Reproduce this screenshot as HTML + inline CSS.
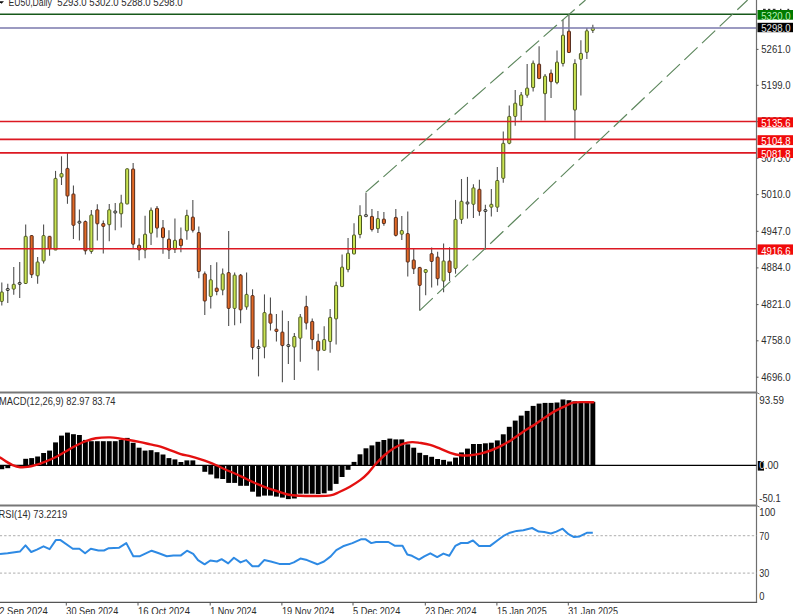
<!DOCTYPE html><html><head><meta charset="utf-8"><style>html,body{margin:0;padding:0;background:#fff;width:793px;height:614px;overflow:hidden}svg{display:block}text{font-family:"Liberation Sans",sans-serif}</style></head><body>
<svg width="793" height="614" viewBox="0 0 793 614">
<rect width="793" height="614" fill="#fff"/>
<line x1="1.80" y1="282.6" x2="1.80" y2="305.4" stroke="#505050" stroke-width="1.1"/>
<rect x="0.30" y="292" width="3" height="9.4" rx="0.6" fill="#cae452" stroke="#4a5620" stroke-width="1"/>
<line x1="7.77" y1="283.8" x2="7.77" y2="303" stroke="#505050" stroke-width="1.1"/>
<rect x="6.27" y="288.50" width="3" height="2" rx="0.8" fill="#b4b4a4" stroke="#2a2a2a" stroke-width="1"/>
<line x1="13.74" y1="267" x2="13.74" y2="294.8" stroke="#505050" stroke-width="1.1"/>
<rect x="12.24" y="284.3" width="3" height="4.8" rx="0.6" fill="#cae452" stroke="#4a5620" stroke-width="1"/>
<line x1="19.71" y1="262" x2="19.71" y2="298" stroke="#505050" stroke-width="1.1"/>
<rect x="18.21" y="282.40" width="3" height="2" rx="0.8" fill="#b4b4a4" stroke="#2a2a2a" stroke-width="1"/>
<line x1="25.68" y1="224.6" x2="25.68" y2="283.5" stroke="#505050" stroke-width="1.1"/>
<rect x="24.18" y="236.3" width="3" height="47.2" rx="0.6" fill="#cae452" stroke="#4a5620" stroke-width="1"/>
<line x1="31.65" y1="235.6" x2="31.65" y2="278" stroke="#505050" stroke-width="1.1"/>
<rect x="30.15" y="235.6" width="3" height="39.1" rx="0.6" fill="#e26a26" stroke="#50281a" stroke-width="1"/>
<line x1="37.62" y1="256.9" x2="37.62" y2="283.8" stroke="#505050" stroke-width="1.1"/>
<rect x="36.12" y="262" width="3" height="13.8" rx="0.6" fill="#cae452" stroke="#4a5620" stroke-width="1"/>
<line x1="43.59" y1="224.6" x2="43.59" y2="263.6" stroke="#505050" stroke-width="1.1"/>
<rect x="42.09" y="235.6" width="3" height="25.4" rx="0.6" fill="#cae452" stroke="#4a5620" stroke-width="1"/>
<line x1="49.56" y1="236.3" x2="49.56" y2="255.8" stroke="#505050" stroke-width="1.1"/>
<rect x="48.06" y="236.3" width="3" height="12.4" rx="0.6" fill="#e26a26" stroke="#50281a" stroke-width="1"/>
<line x1="55.53" y1="170.9" x2="55.53" y2="250" stroke="#505050" stroke-width="1.1"/>
<rect x="54.03" y="178.4" width="3" height="71.6" rx="0.6" fill="#cae452" stroke="#4a5620" stroke-width="1"/>
<line x1="61.50" y1="156.3" x2="61.50" y2="185" stroke="#505050" stroke-width="1.1"/>
<rect x="60.00" y="173.6" width="3" height="3.4" rx="0.6" fill="#cae452" stroke="#4a5620" stroke-width="1"/>
<line x1="67.47" y1="152.8" x2="67.47" y2="203.8" stroke="#505050" stroke-width="1.1"/>
<rect x="65.97" y="168.4" width="3" height="27.6" rx="0.6" fill="#e26a26" stroke="#50281a" stroke-width="1"/>
<line x1="73.44" y1="185.6" x2="73.44" y2="239" stroke="#505050" stroke-width="1.1"/>
<rect x="71.94" y="194" width="3" height="31.3" rx="0.6" fill="#e26a26" stroke="#50281a" stroke-width="1"/>
<line x1="79.41" y1="209.4" x2="79.41" y2="240.5" stroke="#505050" stroke-width="1.1"/>
<rect x="77.91" y="221.20" width="3" height="2" rx="0.8" fill="#b4b4a4" stroke="#2a2a2a" stroke-width="1"/>
<line x1="85.38" y1="220.4" x2="85.38" y2="254.4" stroke="#505050" stroke-width="1.1"/>
<rect x="83.88" y="221.5" width="3" height="29.3" rx="0.6" fill="#e26a26" stroke="#50281a" stroke-width="1"/>
<line x1="91.35" y1="210" x2="91.35" y2="253.7" stroke="#505050" stroke-width="1.1"/>
<rect x="89.85" y="215" width="3" height="36.5" rx="0.6" fill="#cae452" stroke="#4a5620" stroke-width="1"/>
<line x1="97.32" y1="204.2" x2="97.32" y2="240.5" stroke="#505050" stroke-width="1.1"/>
<rect x="95.82" y="209.8" width="3" height="14.0" rx="0.6" fill="#e26a26" stroke="#50281a" stroke-width="1"/>
<line x1="103.29" y1="220.4" x2="103.29" y2="253.4" stroke="#505050" stroke-width="1.1"/>
<rect x="101.79" y="223.5" width="3" height="2.9" rx="0.6" fill="#e26a26" stroke="#50281a" stroke-width="1"/>
<line x1="109.26" y1="204" x2="109.26" y2="241.3" stroke="#505050" stroke-width="1.1"/>
<rect x="107.76" y="209.8" width="3" height="14.9" rx="0.6" fill="#cae452" stroke="#4a5620" stroke-width="1"/>
<line x1="115.23" y1="203" x2="115.23" y2="230.3" stroke="#505050" stroke-width="1.1"/>
<rect x="113.73" y="211.00" width="3" height="2" rx="0.8" fill="#b4b4a4" stroke="#2a2a2a" stroke-width="1"/>
<line x1="121.20" y1="194.7" x2="121.20" y2="227.5" stroke="#505050" stroke-width="1.1"/>
<rect x="119.70" y="203" width="3" height="10.8" rx="0.6" fill="#cae452" stroke="#4a5620" stroke-width="1"/>
<line x1="127.17" y1="168.8" x2="127.17" y2="204" stroke="#505050" stroke-width="1.1"/>
<rect x="125.67" y="168.8" width="3" height="35.2" rx="0.6" fill="#cae452" stroke="#4a5620" stroke-width="1"/>
<line x1="133.14" y1="162.9" x2="133.14" y2="248.6" stroke="#505050" stroke-width="1.1"/>
<rect x="131.64" y="169" width="3" height="75.2" rx="0.6" fill="#e26a26" stroke="#50281a" stroke-width="1"/>
<line x1="139.11" y1="238.3" x2="139.11" y2="260.3" stroke="#505050" stroke-width="1.1"/>
<rect x="137.61" y="245.2" width="3" height="4.8" rx="0.6" fill="#e26a26" stroke="#50281a" stroke-width="1"/>
<line x1="145.08" y1="215.7" x2="145.08" y2="258.3" stroke="#505050" stroke-width="1.1"/>
<rect x="143.58" y="234.2" width="3" height="15.8" rx="0.6" fill="#cae452" stroke="#4a5620" stroke-width="1"/>
<line x1="151.05" y1="207.6" x2="151.05" y2="245" stroke="#505050" stroke-width="1.1"/>
<rect x="149.55" y="210.2" width="3" height="23.0" rx="0.6" fill="#cae452" stroke="#4a5620" stroke-width="1"/>
<line x1="157.02" y1="206.1" x2="157.02" y2="237.6" stroke="#505050" stroke-width="1.1"/>
<rect x="155.52" y="208.3" width="3" height="19.8" rx="0.6" fill="#e26a26" stroke="#50281a" stroke-width="1"/>
<line x1="162.99" y1="220" x2="162.99" y2="253.8" stroke="#505050" stroke-width="1.1"/>
<rect x="161.49" y="227.8" width="3" height="9.8" rx="0.6" fill="#e26a26" stroke="#50281a" stroke-width="1"/>
<line x1="168.96" y1="230.3" x2="168.96" y2="258.9" stroke="#505050" stroke-width="1.1"/>
<rect x="167.46" y="239.1" width="3" height="11.0" rx="0.6" fill="#e26a26" stroke="#50281a" stroke-width="1"/>
<line x1="174.93" y1="218.6" x2="174.93" y2="253" stroke="#505050" stroke-width="1.1"/>
<rect x="173.43" y="240.3" width="3" height="9.1" rx="0.6" fill="#cae452" stroke="#4a5620" stroke-width="1"/>
<line x1="180.90" y1="227.4" x2="180.90" y2="252.3" stroke="#505050" stroke-width="1.1"/>
<rect x="179.40" y="239.1" width="3" height="6.6" rx="0.6" fill="#e26a26" stroke="#50281a" stroke-width="1"/>
<line x1="186.87" y1="209.8" x2="186.87" y2="239.8" stroke="#505050" stroke-width="1.1"/>
<rect x="185.37" y="215.4" width="3" height="15.4" rx="0.6" fill="#cae452" stroke="#4a5620" stroke-width="1"/>
<line x1="192.84" y1="200" x2="192.84" y2="232.5" stroke="#505050" stroke-width="1.1"/>
<rect x="191.34" y="217.1" width="3" height="13.2" rx="0.6" fill="#e26a26" stroke="#50281a" stroke-width="1"/>
<line x1="198.81" y1="226.6" x2="198.81" y2="278.2" stroke="#505050" stroke-width="1.1"/>
<rect x="197.31" y="232.5" width="3" height="39.0" rx="0.6" fill="#e26a26" stroke="#50281a" stroke-width="1"/>
<line x1="204.78" y1="271.5" x2="204.78" y2="315" stroke="#505050" stroke-width="1.1"/>
<rect x="203.28" y="273.8" width="3" height="27.2" rx="0.6" fill="#e26a26" stroke="#50281a" stroke-width="1"/>
<line x1="210.75" y1="265.1" x2="210.75" y2="308.4" stroke="#505050" stroke-width="1.1"/>
<rect x="209.25" y="279.8" width="3" height="16.6" rx="0.6" fill="#cae452" stroke="#4a5620" stroke-width="1"/>
<line x1="216.72" y1="262.2" x2="216.72" y2="295.2" stroke="#505050" stroke-width="1.1"/>
<rect x="215.22" y="288.1" width="3" height="3.4" rx="0.6" fill="#e26a26" stroke="#50281a" stroke-width="1"/>
<line x1="222.69" y1="268.6" x2="222.69" y2="295.2" stroke="#505050" stroke-width="1.1"/>
<rect x="221.19" y="273.9" width="3" height="16.1" rx="0.6" fill="#cae452" stroke="#4a5620" stroke-width="1"/>
<line x1="228.66" y1="231" x2="228.66" y2="326" stroke="#505050" stroke-width="1.1"/>
<rect x="227.16" y="272.6" width="3" height="35.8" rx="0.6" fill="#e26a26" stroke="#50281a" stroke-width="1"/>
<line x1="234.63" y1="272.5" x2="234.63" y2="325.2" stroke="#505050" stroke-width="1.1"/>
<rect x="233.13" y="275.1" width="3" height="33.3" rx="0.6" fill="#cae452" stroke="#4a5620" stroke-width="1"/>
<line x1="240.60" y1="274" x2="240.60" y2="323.3" stroke="#505050" stroke-width="1.1"/>
<rect x="239.10" y="275.1" width="3" height="34.7" rx="0.6" fill="#e26a26" stroke="#50281a" stroke-width="1"/>
<line x1="246.57" y1="272.5" x2="246.57" y2="309.8" stroke="#505050" stroke-width="1.1"/>
<rect x="245.07" y="294.4" width="3" height="12.5" rx="0.6" fill="#cae452" stroke="#4a5620" stroke-width="1"/>
<line x1="252.54" y1="289.3" x2="252.54" y2="359.5" stroke="#505050" stroke-width="1.1"/>
<rect x="251.04" y="295.6" width="3" height="51.9" rx="0.6" fill="#e26a26" stroke="#50281a" stroke-width="1"/>
<line x1="258.51" y1="339.5" x2="258.51" y2="376.4" stroke="#505050" stroke-width="1.1"/>
<rect x="257.01" y="346.50" width="3" height="2" rx="0.8" fill="#b4b4a4" stroke="#2a2a2a" stroke-width="1"/>
<line x1="264.48" y1="294.4" x2="264.48" y2="358.3" stroke="#505050" stroke-width="1.1"/>
<rect x="262.98" y="312.6" width="3" height="34.4" rx="0.6" fill="#cae452" stroke="#4a5620" stroke-width="1"/>
<line x1="270.45" y1="297.6" x2="270.45" y2="330.5" stroke="#505050" stroke-width="1.1"/>
<rect x="268.95" y="314.1" width="3" height="9.1" rx="0.6" fill="#e26a26" stroke="#50281a" stroke-width="1"/>
<line x1="276.42" y1="314.1" x2="276.42" y2="341.6" stroke="#505050" stroke-width="1.1"/>
<rect x="274.92" y="329.2" width="3" height="2.3" rx="0.6" fill="#e26a26" stroke="#50281a" stroke-width="1"/>
<line x1="282.39" y1="310.4" x2="282.39" y2="382.2" stroke="#505050" stroke-width="1.1"/>
<rect x="280.89" y="332.1" width="3" height="13.5" rx="0.6" fill="#e26a26" stroke="#50281a" stroke-width="1"/>
<line x1="288.36" y1="321.1" x2="288.36" y2="363.9" stroke="#505050" stroke-width="1.1"/>
<rect x="286.86" y="344.60" width="3" height="2" rx="0.8" fill="#b4b4a4" stroke="#2a2a2a" stroke-width="1"/>
<line x1="294.33" y1="333.1" x2="294.33" y2="380" stroke="#505050" stroke-width="1.1"/>
<rect x="292.83" y="336.5" width="3" height="10.5" rx="0.6" fill="#cae452" stroke="#4a5620" stroke-width="1"/>
<line x1="300.30" y1="314" x2="300.30" y2="361.7" stroke="#505050" stroke-width="1.1"/>
<rect x="298.80" y="317" width="3" height="21.2" rx="0.6" fill="#cae452" stroke="#4a5620" stroke-width="1"/>
<line x1="306.27" y1="295.7" x2="306.27" y2="329.4" stroke="#505050" stroke-width="1.1"/>
<rect x="304.77" y="306.4" width="3" height="16.7" rx="0.6" fill="#e26a26" stroke="#50281a" stroke-width="1"/>
<line x1="312.24" y1="318.5" x2="312.24" y2="349.3" stroke="#505050" stroke-width="1.1"/>
<rect x="310.74" y="321.4" width="3" height="18.2" rx="0.6" fill="#e26a26" stroke="#50281a" stroke-width="1"/>
<line x1="318.21" y1="333.7" x2="318.21" y2="370.5" stroke="#505050" stroke-width="1.1"/>
<rect x="316.71" y="341.2" width="3" height="9.6" rx="0.6" fill="#e26a26" stroke="#50281a" stroke-width="1"/>
<line x1="324.18" y1="326.2" x2="324.18" y2="350.3" stroke="#505050" stroke-width="1.1"/>
<rect x="322.68" y="339.6" width="3" height="10.7" rx="0.6" fill="#cae452" stroke="#4a5620" stroke-width="1"/>
<line x1="330.15" y1="309" x2="330.15" y2="352.7" stroke="#505050" stroke-width="1.1"/>
<rect x="328.65" y="317.4" width="3" height="24.1" rx="0.6" fill="#cae452" stroke="#4a5620" stroke-width="1"/>
<line x1="336.12" y1="281.8" x2="336.12" y2="344.4" stroke="#505050" stroke-width="1.1"/>
<rect x="334.62" y="285.4" width="3" height="33.5" rx="0.6" fill="#cae452" stroke="#4a5620" stroke-width="1"/>
<line x1="342.09" y1="254.4" x2="342.09" y2="286.6" stroke="#505050" stroke-width="1.1"/>
<rect x="340.59" y="267.1" width="3" height="19.5" rx="0.6" fill="#cae452" stroke="#4a5620" stroke-width="1"/>
<line x1="348.06" y1="237.9" x2="348.06" y2="272.2" stroke="#505050" stroke-width="1.1"/>
<rect x="346.56" y="253.2" width="3" height="16.4" rx="0.6" fill="#cae452" stroke="#4a5620" stroke-width="1"/>
<line x1="354.03" y1="223.2" x2="354.03" y2="254" stroke="#505050" stroke-width="1.1"/>
<rect x="352.53" y="235" width="3" height="19.0" rx="0.6" fill="#cae452" stroke="#4a5620" stroke-width="1"/>
<line x1="360.00" y1="205.2" x2="360.00" y2="238.3" stroke="#505050" stroke-width="1.1"/>
<rect x="358.50" y="215.5" width="3" height="19.0" rx="0.6" fill="#cae452" stroke="#4a5620" stroke-width="1"/>
<line x1="365.97" y1="192.9" x2="365.97" y2="216.6" stroke="#505050" stroke-width="1.1"/>
<rect x="364.47" y="214.60" width="3" height="2" rx="0.8" fill="#b4b4a4" stroke="#2a2a2a" stroke-width="1"/>
<line x1="371.94" y1="209" x2="371.94" y2="231.6" stroke="#505050" stroke-width="1.1"/>
<rect x="370.44" y="216.4" width="3" height="13.1" rx="0.6" fill="#e26a26" stroke="#50281a" stroke-width="1"/>
<line x1="377.91" y1="211.1" x2="377.91" y2="233" stroke="#505050" stroke-width="1.1"/>
<rect x="376.41" y="218.6" width="3" height="10.1" rx="0.6" fill="#cae452" stroke="#4a5620" stroke-width="1"/>
<line x1="383.88" y1="212" x2="383.88" y2="225.7" stroke="#505050" stroke-width="1.1"/>
<rect x="382.38" y="219.1" width="3" height="4.4" rx="0.6" fill="#e26a26" stroke="#50281a" stroke-width="1"/>
<line x1="395.82" y1="209" x2="395.82" y2="236.4" stroke="#505050" stroke-width="1.1"/>
<rect x="394.32" y="217.4" width="3" height="18.0" rx="0.6" fill="#e26a26" stroke="#50281a" stroke-width="1"/>
<line x1="401.79" y1="215.9" x2="401.79" y2="240.1" stroke="#505050" stroke-width="1.1"/>
<rect x="400.29" y="230.6" width="3" height="3.6" rx="0.6" fill="#cae452" stroke="#4a5620" stroke-width="1"/>
<line x1="407.76" y1="211.5" x2="407.76" y2="276.6" stroke="#505050" stroke-width="1.1"/>
<rect x="406.26" y="233.6" width="3" height="28.4" rx="0.6" fill="#e26a26" stroke="#50281a" stroke-width="1"/>
<line x1="413.73" y1="248.3" x2="413.73" y2="274" stroke="#505050" stroke-width="1.1"/>
<rect x="412.23" y="260" width="3" height="8.8" rx="0.6" fill="#e26a26" stroke="#50281a" stroke-width="1"/>
<line x1="419.70" y1="267.4" x2="419.70" y2="310.6" stroke="#505050" stroke-width="1.1"/>
<rect x="418.20" y="267.4" width="3" height="18.0" rx="0.6" fill="#e26a26" stroke="#50281a" stroke-width="1"/>
<line x1="425.67" y1="269.6" x2="425.67" y2="295.2" stroke="#505050" stroke-width="1.1"/>
<rect x="424.17" y="269.6" width="3" height="2.9" rx="0.6" fill="#cae452" stroke="#4a5620" stroke-width="1"/>
<line x1="431.64" y1="247.6" x2="431.64" y2="287.5" stroke="#505050" stroke-width="1.1"/>
<rect x="430.14" y="253.7" width="3" height="7.8" rx="0.6" fill="#e26a26" stroke="#50281a" stroke-width="1"/>
<line x1="437.61" y1="251.7" x2="437.61" y2="285.4" stroke="#505050" stroke-width="1.1"/>
<rect x="436.11" y="257.1" width="3" height="21.6" rx="0.6" fill="#e26a26" stroke="#50281a" stroke-width="1"/>
<line x1="443.58" y1="243.4" x2="443.58" y2="292.3" stroke="#505050" stroke-width="1.1"/>
<rect x="442.08" y="261" width="3" height="20.0" rx="0.6" fill="#cae452" stroke="#4a5620" stroke-width="1"/>
<line x1="449.55" y1="247.3" x2="449.55" y2="281" stroke="#505050" stroke-width="1.1"/>
<rect x="448.05" y="261" width="3" height="11.5" rx="0.6" fill="#e26a26" stroke="#50281a" stroke-width="1"/>
<line x1="455.52" y1="199.9" x2="455.52" y2="273.7" stroke="#505050" stroke-width="1.1"/>
<rect x="454.02" y="219.4" width="3" height="49.0" rx="0.6" fill="#cae452" stroke="#4a5620" stroke-width="1"/>
<line x1="461.49" y1="179" x2="461.49" y2="223.8" stroke="#505050" stroke-width="1.1"/>
<rect x="459.99" y="201.3" width="3" height="18.1" rx="0.6" fill="#cae452" stroke="#4a5620" stroke-width="1"/>
<line x1="467.46" y1="176.9" x2="467.46" y2="218.6" stroke="#505050" stroke-width="1.1"/>
<rect x="465.96" y="202.00" width="3" height="2" rx="0.8" fill="#b4b4a4" stroke="#2a2a2a" stroke-width="1"/>
<line x1="473.43" y1="184.2" x2="473.43" y2="217.9" stroke="#505050" stroke-width="1.1"/>
<rect x="471.93" y="187.9" width="3" height="16.4" rx="0.6" fill="#cae452" stroke="#4a5620" stroke-width="1"/>
<line x1="479.40" y1="179.8" x2="479.40" y2="215.7" stroke="#505050" stroke-width="1.1"/>
<rect x="477.90" y="189.3" width="3" height="22.0" rx="0.6" fill="#e26a26" stroke="#50281a" stroke-width="1"/>
<line x1="485.37" y1="204.7" x2="485.37" y2="249.4" stroke="#505050" stroke-width="1.1"/>
<rect x="483.87" y="209.60" width="3" height="2" rx="0.8" fill="#b4b4a4" stroke="#2a2a2a" stroke-width="1"/>
<line x1="491.34" y1="189" x2="491.34" y2="216.4" stroke="#505050" stroke-width="1.1"/>
<rect x="489.84" y="204.3" width="3" height="2.9" rx="0.6" fill="#cae452" stroke="#4a5620" stroke-width="1"/>
<line x1="497.31" y1="167" x2="497.31" y2="212" stroke="#505050" stroke-width="1.1"/>
<rect x="495.81" y="180.5" width="3" height="26.7" rx="0.6" fill="#cae452" stroke="#4a5620" stroke-width="1"/>
<line x1="503.28" y1="131.4" x2="503.28" y2="182.7" stroke="#505050" stroke-width="1.1"/>
<rect x="501.78" y="143.3" width="3" height="35.0" rx="0.6" fill="#cae452" stroke="#4a5620" stroke-width="1"/>
<line x1="509.25" y1="105.4" x2="509.25" y2="144.3" stroke="#505050" stroke-width="1.1"/>
<rect x="507.75" y="116.4" width="3" height="26.9" rx="0.6" fill="#cae452" stroke="#4a5620" stroke-width="1"/>
<line x1="515.22" y1="90" x2="515.22" y2="125.7" stroke="#505050" stroke-width="1.1"/>
<rect x="513.72" y="103.2" width="3" height="13.2" rx="0.6" fill="#cae452" stroke="#4a5620" stroke-width="1"/>
<line x1="521.19" y1="92" x2="521.19" y2="120.4" stroke="#505050" stroke-width="1.1"/>
<rect x="519.69" y="94.9" width="3" height="10.8" rx="0.6" fill="#cae452" stroke="#4a5620" stroke-width="1"/>
<line x1="527.16" y1="64.1" x2="527.16" y2="97.8" stroke="#505050" stroke-width="1.1"/>
<rect x="525.66" y="88.1" width="3" height="7.1" rx="0.6" fill="#cae452" stroke="#4a5620" stroke-width="1"/>
<line x1="533.13" y1="60.5" x2="533.13" y2="91.5" stroke="#505050" stroke-width="1.1"/>
<rect x="531.63" y="63.2" width="3" height="24.4" rx="0.6" fill="#cae452" stroke="#4a5620" stroke-width="1"/>
<line x1="539.10" y1="46.2" x2="539.10" y2="78.6" stroke="#505050" stroke-width="1.1"/>
<rect x="537.60" y="64.1" width="3" height="14.5" rx="0.6" fill="#e26a26" stroke="#50281a" stroke-width="1"/>
<line x1="545.07" y1="74" x2="545.07" y2="120.4" stroke="#505050" stroke-width="1.1"/>
<rect x="543.57" y="76.1" width="3" height="17.6" rx="0.6" fill="#cae452" stroke="#4a5620" stroke-width="1"/>
<line x1="551.04" y1="69.5" x2="551.04" y2="98.1" stroke="#505050" stroke-width="1.1"/>
<rect x="549.54" y="73.2" width="3" height="8.5" rx="0.6" fill="#e26a26" stroke="#50281a" stroke-width="1"/>
<line x1="557.01" y1="50.6" x2="557.01" y2="84.2" stroke="#505050" stroke-width="1.1"/>
<rect x="555.51" y="62.1" width="3" height="20.6" rx="0.6" fill="#cae452" stroke="#4a5620" stroke-width="1"/>
<line x1="562.98" y1="19.8" x2="562.98" y2="66.5" stroke="#505050" stroke-width="1.1"/>
<rect x="561.48" y="35.2" width="3" height="28.3" rx="0.6" fill="#cae452" stroke="#4a5620" stroke-width="1"/>
<line x1="568.95" y1="14.2" x2="568.95" y2="52.5" stroke="#505050" stroke-width="1.1"/>
<rect x="567.45" y="31.2" width="3" height="21.3" rx="0.6" fill="#e26a26" stroke="#50281a" stroke-width="1"/>
<line x1="574.92" y1="59.3" x2="574.92" y2="139.4" stroke="#505050" stroke-width="1.1"/>
<rect x="573.42" y="63.5" width="3" height="46.5" rx="0.6" fill="#cae452" stroke="#4a5620" stroke-width="1"/>
<line x1="580.89" y1="40.3" x2="580.89" y2="95.4" stroke="#505050" stroke-width="1.1"/>
<rect x="579.39" y="53.4" width="3" height="5.9" rx="0.6" fill="#cae452" stroke="#4a5620" stroke-width="1"/>
<line x1="586.86" y1="27.9" x2="586.86" y2="59" stroke="#505050" stroke-width="1.1"/>
<rect x="585.36" y="30.8" width="3" height="21.5" rx="0.6" fill="#cae452" stroke="#4a5620" stroke-width="1"/>
<line x1="592.83" y1="24.8" x2="592.83" y2="33.1" stroke="#505050" stroke-width="1.1"/>
<rect x="591.33" y="27.6" width="3" height="2.8" rx="0.6" fill="#cae452" stroke="#4a5620" stroke-width="1"/>
<line x1="0" y1="14.2" x2="757" y2="14.2" stroke="#17581a" stroke-width="1.5"/>
<line x1="0" y1="27.9" x2="757" y2="27.9" stroke="#7a78ac" stroke-width="1.5"/>
<line x1="0" y1="121.5" x2="757" y2="121.5" stroke="#dc1822" stroke-width="1.6"/>
<line x1="0" y1="139.4" x2="757" y2="139.4" stroke="#dc1822" stroke-width="1.6"/>
<line x1="0" y1="152.9" x2="757" y2="152.9" stroke="#dc1822" stroke-width="1.6"/>
<line x1="0" y1="248.8" x2="757" y2="248.8" stroke="#dc1822" stroke-width="1.6"/>
<line x1="365.6" y1="192.4" x2="585.5" y2="0" stroke="#5c865c" stroke-width="1.15" stroke-dasharray="17.69 5.96"/>
<line x1="419.6" y1="310.6" x2="747.6" y2="0" stroke="#5c865c" stroke-width="1.15" stroke-dasharray="18.18 6.13"/>
<line x1="756.5" y1="0" x2="756.5" y2="602.5" stroke="#6e6e6e" stroke-width="1.2"/>
<line x1="756.5" y1="49.4" x2="758.5" y2="49.4" stroke="#555" stroke-width="1"/>
<text x="761.3" y="52.8" font-size="10.4" fill="#2d2d2d" text-anchor="start" textLength="29.2" lengthAdjust="spacingAndGlyphs">5261.0</text>
<line x1="756.5" y1="85.3" x2="758.5" y2="85.3" stroke="#555" stroke-width="1"/>
<text x="761.3" y="88.7" font-size="10.4" fill="#2d2d2d" text-anchor="start" textLength="29.2" lengthAdjust="spacingAndGlyphs">5199.0</text>
<line x1="756.5" y1="121.7" x2="758.5" y2="121.7" stroke="#555" stroke-width="1"/>
<text x="761.3" y="125.10000000000001" font-size="10.4" fill="#2d2d2d" text-anchor="start" textLength="29.2" lengthAdjust="spacingAndGlyphs">5136.0</text>
<line x1="756.5" y1="158.2" x2="758.5" y2="158.2" stroke="#555" stroke-width="1"/>
<text x="761.3" y="161.6" font-size="10.4" fill="#2d2d2d" text-anchor="start" textLength="29.2" lengthAdjust="spacingAndGlyphs">5073.0</text>
<line x1="756.5" y1="194.6" x2="758.5" y2="194.6" stroke="#555" stroke-width="1"/>
<text x="761.3" y="198.0" font-size="10.4" fill="#2d2d2d" text-anchor="start" textLength="29.2" lengthAdjust="spacingAndGlyphs">5010.0</text>
<line x1="756.5" y1="231.3" x2="758.5" y2="231.3" stroke="#555" stroke-width="1"/>
<text x="761.3" y="234.70000000000002" font-size="10.4" fill="#2d2d2d" text-anchor="start" textLength="29.2" lengthAdjust="spacingAndGlyphs">4947.0</text>
<line x1="756.5" y1="267.9" x2="758.5" y2="267.9" stroke="#555" stroke-width="1"/>
<text x="761.3" y="271.29999999999995" font-size="10.4" fill="#2d2d2d" text-anchor="start" textLength="29.2" lengthAdjust="spacingAndGlyphs">4884.0</text>
<line x1="756.5" y1="304.6" x2="758.5" y2="304.6" stroke="#555" stroke-width="1"/>
<text x="761.3" y="308.0" font-size="10.4" fill="#2d2d2d" text-anchor="start" textLength="29.2" lengthAdjust="spacingAndGlyphs">4821.0</text>
<line x1="756.5" y1="340.8" x2="758.5" y2="340.8" stroke="#555" stroke-width="1"/>
<text x="761.3" y="344.2" font-size="10.4" fill="#2d2d2d" text-anchor="start" textLength="29.2" lengthAdjust="spacingAndGlyphs">4758.0</text>
<line x1="756.5" y1="377.2" x2="758.5" y2="377.2" stroke="#555" stroke-width="1"/>
<text x="761.3" y="380.59999999999997" font-size="10.4" fill="#2d2d2d" text-anchor="start" textLength="29.2" lengthAdjust="spacingAndGlyphs">4696.0</text>
<rect x="763" y="8.8" width="2.7" height="1.3" fill="#333"/>
<rect x="767.9" y="8.8" width="2.4" height="1.3" fill="#333"/>
<rect x="772.8" y="8.8" width="2.7" height="1.3" fill="#333"/>
<rect x="780" y="8.8" width="1.4" height="1.3" fill="#333"/>
<rect x="787.4" y="8.8" width="1.8" height="1.3" fill="#333"/>
<rect x="757.5" y="10" width="36" height="9.7" fill="#007a00"/>
<text x="761.3" y="19.5" font-size="10.4" fill="#b8f0b8" text-anchor="start" textLength="29.2" lengthAdjust="spacingAndGlyphs">5320.0</text>
<rect x="757.5" y="22.8" width="36" height="9.400000000000002" fill="#000"/>
<text x="761.3" y="32.0" font-size="10.4" fill="#e6e6e6" text-anchor="start" textLength="29.2" lengthAdjust="spacingAndGlyphs">5298.0</text>
<rect x="757.5" y="117.3" width="36" height="10.0" fill="#f00a0a"/>
<text x="761.3" y="127.1" font-size="10.4" fill="#fff" text-anchor="start" textLength="29.2" lengthAdjust="spacingAndGlyphs">5135.6</text>
<rect x="757.5" y="135.2" width="36" height="9.900000000000006" fill="#f00a0a"/>
<text x="761.3" y="144.9" font-size="10.4" fill="#fff" text-anchor="start" textLength="29.2" lengthAdjust="spacingAndGlyphs">5104.8</text>
<rect x="757.5" y="147.8" width="36" height="10.199999999999989" fill="#f00a0a"/>
<text x="761.3" y="157.8" font-size="10.4" fill="#fff" text-anchor="start" textLength="29.2" lengthAdjust="spacingAndGlyphs">5081.8</text>
<rect x="757.5" y="244.4" width="36" height="10.299999999999983" fill="#f00a0a"/>
<text x="761.3" y="254.5" font-size="10.4" fill="#fff" text-anchor="start" textLength="29.2" lengthAdjust="spacingAndGlyphs">4916.6</text>
<path d="M-1 1.2 L4 1.2 L1.5 3.8 Z" fill="#111"/>
<text x="8.6" y="6.2" font-size="10.4" fill="#2d2d2d" text-anchor="start" textLength="43.2" lengthAdjust="spacingAndGlyphs">EU50,Daily</text>
<text x="57.3" y="6.2" font-size="10.4" fill="#2d2d2d" text-anchor="start" textLength="125.4" lengthAdjust="spacingAndGlyphs">5293.0 5302.0 5288.0 5298.0</text>
<line x1="0" y1="392.5" x2="757.1" y2="392.5" stroke="#777" stroke-width="2.2"/>
<line x1="756.5" y1="392.5" x2="759.5" y2="394.0" stroke="#777" stroke-width="1"/>
<line x1="0" y1="505.5" x2="757.1" y2="505.5" stroke="#777" stroke-width="2.2"/>
<line x1="756.5" y1="505.5" x2="759.5" y2="507.0" stroke="#777" stroke-width="1"/>
<text x="-1" y="404.7" font-size="10.4" fill="#2d2d2d" text-anchor="start" textLength="116.5" lengthAdjust="spacingAndGlyphs">MACD(12,26,9) 82.97 83.74</text>
<rect x="-0.65" y="465.3" width="4.9" height="3.9" fill="#000"/>
<rect x="5.32" y="465.3" width="4.9" height="2.9" fill="#000"/>
<rect x="11.29" y="465.3" width="4.9" height="0.5" fill="#000"/>
<rect x="17.26" y="465.0" width="4.9" height="0.3" fill="#000"/>
<rect x="23.23" y="458.8" width="4.9" height="6.5" fill="#000"/>
<rect x="29.20" y="458.1" width="4.9" height="7.2" fill="#000"/>
<rect x="35.17" y="456.5" width="4.9" height="8.8" fill="#000"/>
<rect x="41.14" y="453.0" width="4.9" height="12.3" fill="#000"/>
<rect x="47.11" y="450.6" width="4.9" height="14.7" fill="#000"/>
<rect x="53.08" y="442.4" width="4.9" height="22.9" fill="#000"/>
<rect x="59.05" y="435.6" width="4.9" height="29.7" fill="#000"/>
<rect x="65.02" y="432.6" width="4.9" height="32.7" fill="#000"/>
<rect x="70.99" y="434.2" width="4.9" height="31.1" fill="#000"/>
<rect x="76.96" y="435.0" width="4.9" height="30.3" fill="#000"/>
<rect x="82.93" y="439.9" width="4.9" height="25.4" fill="#000"/>
<rect x="88.90" y="441.2" width="4.9" height="24.1" fill="#000"/>
<rect x="94.87" y="441.2" width="4.9" height="24.1" fill="#000"/>
<rect x="100.84" y="441.2" width="4.9" height="24.1" fill="#000"/>
<rect x="106.81" y="441.2" width="4.9" height="24.1" fill="#000"/>
<rect x="112.78" y="441.2" width="4.9" height="24.1" fill="#000"/>
<rect x="118.75" y="439.9" width="4.9" height="25.4" fill="#000"/>
<rect x="124.72" y="437.9" width="4.9" height="27.4" fill="#000"/>
<rect x="130.69" y="442.8" width="4.9" height="22.5" fill="#000"/>
<rect x="136.66" y="447.7" width="4.9" height="17.6" fill="#000"/>
<rect x="142.63" y="450.6" width="4.9" height="14.7" fill="#000"/>
<rect x="148.60" y="450.2" width="4.9" height="15.1" fill="#000"/>
<rect x="154.57" y="452.2" width="4.9" height="13.1" fill="#000"/>
<rect x="160.54" y="454.5" width="4.9" height="10.8" fill="#000"/>
<rect x="166.51" y="458.1" width="4.9" height="7.2" fill="#000"/>
<rect x="172.48" y="459.4" width="4.9" height="5.9" fill="#000"/>
<rect x="178.45" y="462.0" width="4.9" height="3.3" fill="#000"/>
<rect x="184.42" y="460.4" width="4.9" height="4.9" fill="#000"/>
<rect x="190.39" y="460.4" width="4.9" height="4.9" fill="#000"/>
<rect x="196.36" y="465.0" width="4.9" height="0.3" fill="#000"/>
<rect x="202.33" y="465.3" width="4.9" height="6.5" fill="#000"/>
<rect x="208.30" y="465.3" width="4.9" height="9.2" fill="#000"/>
<rect x="214.27" y="465.3" width="4.9" height="13.1" fill="#000"/>
<rect x="220.24" y="465.3" width="4.9" height="13.7" fill="#000"/>
<rect x="226.21" y="465.3" width="4.9" height="17.6" fill="#000"/>
<rect x="232.18" y="465.3" width="4.9" height="17.6" fill="#000"/>
<rect x="238.15" y="465.3" width="4.9" height="20.5" fill="#000"/>
<rect x="244.12" y="465.3" width="4.9" height="20.5" fill="#000"/>
<rect x="250.09" y="465.3" width="4.9" height="26.4" fill="#000"/>
<rect x="256.06" y="465.3" width="4.9" height="31.3" fill="#000"/>
<rect x="262.03" y="465.3" width="4.9" height="30.3" fill="#000"/>
<rect x="268.00" y="465.3" width="4.9" height="30.3" fill="#000"/>
<rect x="273.97" y="465.3" width="4.9" height="31.3" fill="#000"/>
<rect x="279.94" y="465.3" width="4.9" height="32.3" fill="#000"/>
<rect x="285.91" y="465.3" width="4.9" height="33.8" fill="#000"/>
<rect x="291.88" y="465.3" width="4.9" height="33.2" fill="#000"/>
<rect x="297.85" y="465.3" width="4.9" height="28.4" fill="#000"/>
<rect x="303.82" y="465.3" width="4.9" height="28.4" fill="#000"/>
<rect x="309.79" y="465.3" width="4.9" height="28.4" fill="#000"/>
<rect x="315.76" y="465.3" width="4.9" height="28.7" fill="#000"/>
<rect x="321.73" y="465.3" width="4.9" height="28.0" fill="#000"/>
<rect x="327.70" y="465.3" width="4.9" height="25.4" fill="#000"/>
<rect x="333.67" y="465.3" width="4.9" height="18.6" fill="#000"/>
<rect x="339.64" y="465.3" width="4.9" height="11.7" fill="#000"/>
<rect x="345.61" y="465.3" width="4.9" height="4.5" fill="#000"/>
<rect x="351.58" y="461.9" width="4.9" height="3.4" fill="#000"/>
<rect x="357.55" y="454.3" width="4.9" height="11.0" fill="#000"/>
<rect x="363.52" y="448.3" width="4.9" height="17.0" fill="#000"/>
<rect x="369.49" y="445.4" width="4.9" height="19.9" fill="#000"/>
<rect x="375.46" y="441.8" width="4.9" height="23.5" fill="#000"/>
<rect x="381.43" y="440.0" width="4.9" height="25.3" fill="#000"/>
<rect x="387.40" y="438.6" width="4.9" height="26.7" fill="#000"/>
<rect x="393.37" y="439.4" width="4.9" height="25.9" fill="#000"/>
<rect x="399.34" y="439.4" width="4.9" height="25.9" fill="#000"/>
<rect x="405.31" y="444.3" width="4.9" height="21.0" fill="#000"/>
<rect x="411.28" y="447.7" width="4.9" height="17.6" fill="#000"/>
<rect x="417.25" y="452.8" width="4.9" height="12.5" fill="#000"/>
<rect x="423.22" y="455.1" width="4.9" height="10.2" fill="#000"/>
<rect x="429.19" y="456.8" width="4.9" height="8.5" fill="#000"/>
<rect x="435.16" y="459.0" width="4.9" height="6.3" fill="#000"/>
<rect x="441.13" y="459.9" width="4.9" height="5.4" fill="#000"/>
<rect x="447.10" y="461.5" width="4.9" height="3.8" fill="#000"/>
<rect x="453.07" y="457.6" width="4.9" height="7.7" fill="#000"/>
<rect x="459.04" y="452.4" width="4.9" height="12.9" fill="#000"/>
<rect x="465.01" y="448.6" width="4.9" height="16.7" fill="#000"/>
<rect x="470.98" y="444.0" width="4.9" height="21.3" fill="#000"/>
<rect x="476.95" y="444.0" width="4.9" height="21.3" fill="#000"/>
<rect x="482.92" y="443.3" width="4.9" height="22.0" fill="#000"/>
<rect x="488.89" y="442.7" width="4.9" height="22.6" fill="#000"/>
<rect x="494.86" y="440.4" width="4.9" height="24.9" fill="#000"/>
<rect x="500.83" y="434.3" width="4.9" height="31.0" fill="#000"/>
<rect x="506.80" y="426.8" width="4.9" height="38.5" fill="#000"/>
<rect x="512.77" y="420.6" width="4.9" height="44.7" fill="#000"/>
<rect x="518.74" y="415.6" width="4.9" height="49.7" fill="#000"/>
<rect x="524.71" y="410.9" width="4.9" height="54.4" fill="#000"/>
<rect x="530.68" y="405.9" width="4.9" height="59.4" fill="#000"/>
<rect x="536.65" y="403.6" width="4.9" height="61.7" fill="#000"/>
<rect x="542.62" y="402.9" width="4.9" height="62.4" fill="#000"/>
<rect x="548.59" y="402.9" width="4.9" height="62.4" fill="#000"/>
<rect x="554.56" y="402.5" width="4.9" height="62.8" fill="#000"/>
<rect x="560.53" y="399.5" width="4.9" height="65.8" fill="#000"/>
<rect x="566.50" y="400.2" width="4.9" height="65.1" fill="#000"/>
<rect x="572.47" y="401.3" width="4.9" height="64.0" fill="#000"/>
<rect x="578.44" y="401.8" width="4.9" height="63.5" fill="#000"/>
<rect x="584.41" y="401.8" width="4.9" height="63.5" fill="#000"/>
<rect x="590.38" y="401.8" width="4.9" height="63.5" fill="#000"/>
<line x1="0" y1="465.3" x2="756.5" y2="465.3" stroke="#000" stroke-width="1.2"/>
<path d="M0.00,457.50 C1.05,458.18 4.20,460.33 6.30,461.60 C8.40,462.87 10.28,464.17 12.60,465.10 C14.92,466.03 17.68,466.90 20.20,467.20 C22.72,467.50 25.18,467.25 27.70,466.90 C30.22,466.55 32.35,465.98 35.30,465.10 C38.25,464.22 42.03,462.92 45.40,461.60 C48.77,460.28 52.13,458.88 55.50,457.20 C58.87,455.52 62.23,453.40 65.60,451.50 C68.97,449.60 72.33,447.53 75.70,445.80 C79.07,444.07 82.45,442.37 85.80,441.10 C89.15,439.83 91.75,438.82 95.80,438.20 C99.85,437.58 106.03,437.33 110.10,437.40 C114.17,437.47 116.83,438.13 120.20,438.60 C123.57,439.07 126.93,439.60 130.30,440.20 C133.67,440.80 137.05,441.50 140.40,442.20 C143.75,442.90 147.05,443.67 150.40,444.40 C153.75,445.13 157.13,445.62 160.50,446.60 C163.87,447.58 167.23,449.05 170.60,450.30 C173.97,451.55 177.33,453.08 180.70,454.10 C184.07,455.12 187.58,455.55 190.80,456.40 C194.02,457.25 196.02,457.85 200.00,459.20 C203.98,460.55 210.48,462.78 214.70,464.50 C218.92,466.22 221.77,467.92 225.30,469.50 C228.83,471.08 232.37,472.42 235.90,474.00 C239.43,475.58 242.98,477.35 246.50,479.00 C250.02,480.65 253.48,482.38 257.00,483.90 C260.52,485.42 264.07,486.83 267.60,488.10 C271.13,489.37 274.67,490.38 278.20,491.50 C281.73,492.62 285.17,494.08 288.80,494.80 C292.43,495.52 295.62,495.60 300.00,495.80 C304.38,496.00 310.05,496.07 315.10,496.00 C320.15,495.93 326.27,496.07 330.30,495.40 C334.33,494.73 336.03,493.45 339.30,492.00 C342.57,490.55 346.37,488.72 349.90,486.70 C353.43,484.68 357.47,482.17 360.50,479.90 C363.53,477.63 365.57,475.75 368.10,473.10 C370.63,470.45 372.93,467.02 375.70,464.00 C378.47,460.98 381.68,457.63 384.70,455.00 C387.72,452.37 390.77,450.05 393.80,448.20 C396.83,446.35 399.87,444.92 402.90,443.90 C405.93,442.88 409.15,442.27 412.00,442.10 C414.85,441.93 416.98,442.45 420.00,442.90 C423.02,443.35 426.73,443.85 430.10,444.80 C433.47,445.75 436.83,447.27 440.20,448.60 C443.57,449.93 446.93,451.68 450.30,452.80 C453.67,453.92 457.05,454.88 460.40,455.30 C463.75,455.72 467.05,455.58 470.40,455.30 C473.75,455.02 477.13,454.40 480.50,453.60 C483.87,452.80 487.23,451.75 490.60,450.50 C493.97,449.25 497.33,447.78 500.70,446.10 C504.07,444.42 507.58,442.42 510.80,440.40 C514.02,438.38 517.62,435.65 520.00,434.00 C522.38,432.35 522.57,432.13 525.10,430.50 C527.63,428.87 531.83,426.42 535.20,424.20 C538.57,421.98 541.93,419.42 545.30,417.20 C548.67,414.98 552.05,412.75 555.40,410.90 C558.75,409.05 562.47,407.47 565.40,406.10 C568.33,404.73 570.05,403.37 573.00,402.70 C575.95,402.03 579.73,402.17 583.10,402.10 C586.47,402.03 591.52,402.27 593.20,402.30" fill="none" stroke="#e41010" stroke-width="2.4" stroke-linecap="round"/>
<text x="759.3" y="403.8" font-size="10.4" fill="#2d2d2d" text-anchor="start" textLength="24.6" lengthAdjust="spacingAndGlyphs">93.59</text>
<rect x="757.8" y="461" width="6.2" height="9.6" fill="#000"/>
<text x="759.3" y="469.2" font-size="10.4" fill="#2d2d2d" text-anchor="start" textLength="19.3" lengthAdjust="spacingAndGlyphs"><tspan fill="#ddd">0</tspan>.00</text>
<text x="759.3" y="502.4" font-size="10.4" fill="#2d2d2d" text-anchor="start" textLength="21.4" lengthAdjust="spacingAndGlyphs">-50.1</text>
<text x="-1.5" y="518" font-size="10" fill="#2d2d2d" text-anchor="start" textLength="68.6" lengthAdjust="spacingAndGlyphs">RSI(14) 73.2219</text>
<line x1="0" y1="535.6" x2="756.5" y2="535.6" stroke="#bdbdbd" stroke-width="1.1" stroke-dasharray="2.4 2.05" stroke-dashoffset="0.3"/>
<line x1="0" y1="573.1" x2="756.5" y2="573.1" stroke="#bdbdbd" stroke-width="1.1" stroke-dasharray="2.4 2.05" stroke-dashoffset="0.3"/>
<polyline points="0,553.9 7.6,553.3 19.9,551.6 25.5,545.4 31.2,552 36.9,549.6 43.5,546.3 49.6,549.2 55.8,540.1 60.5,540.1 72.8,548.8 79.4,548.8 85.1,553.3 90.8,548.8 98.4,550.5 104,550.5 108.8,548.2 119.2,547.7 126.3,543.1 133.3,556.2 140,556.2 151.6,550.7 158.2,553 166.8,556.2 173.4,555.4 180.9,555.4 187,550.7 193.2,553.9 198,560.1 204.6,564.3 210.3,560.5 216.9,561.5 221.6,559.2 228.2,563.4 233.9,557.7 240.5,562.4 246.2,560.1 252.4,566.2 258.5,566.2 264.2,560.1 270.8,561.5 279.3,563.9 289.7,563.9 293.8,562.4 300.4,558.6 307,560.1 317.4,564.3 324,561.5 330.7,556.4 336.3,550.1 343,546.3 352.4,543.1 360.9,539.3 365.7,539.3 371.3,543.1 376.1,542 388.4,542 395,545.8 402.5,545.8 407.3,554.5 412,555.8 419,559.6 424.3,556.4 430.3,553.3 437.2,557.1 443.4,553.6 449.3,555.8 455.3,545.9 461,543 467.7,543 473,540.4 479.1,545.9 490.2,545.9 499,539.3 504.5,535.3 510,532.7 516.7,530.9 523.3,530.2 532.1,528 538.7,531.6 544.2,532 550.9,533.5 556.4,531.6 562.6,528.7 568.5,534.2 574,537.1 579.6,536.4 587.3,532.7 592.8,532.7" fill="none" stroke="#2e8ae4" stroke-width="2" stroke-linejoin="round"/>
<text x="759.3" y="516.4" font-size="10.4" fill="#2d2d2d" text-anchor="start" textLength="16" lengthAdjust="spacingAndGlyphs">100</text>
<text x="759.3" y="540" font-size="10.4" fill="#2d2d2d" text-anchor="start" textLength="10" lengthAdjust="spacingAndGlyphs">70</text>
<text x="759.3" y="577.2" font-size="10.4" fill="#2d2d2d" text-anchor="start" textLength="10" lengthAdjust="spacingAndGlyphs">30</text>
<text x="759.3" y="600.4" font-size="10.4" fill="#2d2d2d" text-anchor="start" textLength="5.2" lengthAdjust="spacingAndGlyphs">0</text>
<line x1="0" y1="602.3" x2="757.1" y2="602.3" stroke="#555" stroke-width="1.2"/>
<text x="-0.8" y="614.5" font-size="10.4" fill="#2d2d2d" text-anchor="start" textLength="48.5" lengthAdjust="spacingAndGlyphs">2 Sep 2024</text>
<line x1="66.3" y1="602" x2="66.3" y2="605.5" stroke="#555" stroke-width="1"/>
<text x="66.3" y="614.5" font-size="10.4" fill="#2d2d2d" text-anchor="start" textLength="52.0" lengthAdjust="spacingAndGlyphs">30 Sep 2024</text>
<line x1="138.0" y1="602" x2="138.0" y2="605.5" stroke="#555" stroke-width="1"/>
<text x="138.0" y="614.5" font-size="10.4" fill="#2d2d2d" text-anchor="start" textLength="52.0" lengthAdjust="spacingAndGlyphs">16 Oct 2024</text>
<line x1="210.2" y1="602" x2="210.2" y2="605.5" stroke="#555" stroke-width="1"/>
<text x="210.2" y="614.5" font-size="10.4" fill="#2d2d2d" text-anchor="start" textLength="46.5" lengthAdjust="spacingAndGlyphs">1 Nov 2024</text>
<line x1="281.9" y1="602" x2="281.9" y2="605.5" stroke="#555" stroke-width="1"/>
<text x="281.9" y="614.5" font-size="10.4" fill="#2d2d2d" text-anchor="start" textLength="52.6" lengthAdjust="spacingAndGlyphs">19 Nov 2024</text>
<line x1="353.0" y1="602" x2="353.0" y2="605.5" stroke="#555" stroke-width="1"/>
<text x="353.0" y="614.5" font-size="10.4" fill="#2d2d2d" text-anchor="start" textLength="47.300000000000004" lengthAdjust="spacingAndGlyphs">5 Dec 2024</text>
<line x1="425.3" y1="602" x2="425.3" y2="605.5" stroke="#555" stroke-width="1"/>
<text x="425.3" y="614.5" font-size="10.4" fill="#2d2d2d" text-anchor="start" textLength="51.1" lengthAdjust="spacingAndGlyphs">23 Dec 2024</text>
<line x1="496.9" y1="602" x2="496.9" y2="605.5" stroke="#555" stroke-width="1"/>
<text x="496.9" y="614.5" font-size="10.4" fill="#2d2d2d" text-anchor="start" textLength="49.800000000000004" lengthAdjust="spacingAndGlyphs">15 Jan 2025</text>
<line x1="568.3" y1="602" x2="568.3" y2="605.5" stroke="#555" stroke-width="1"/>
<text x="568.3000000000001" y="614.5" font-size="10.4" fill="#2d2d2d" text-anchor="start" textLength="49.800000000000004" lengthAdjust="spacingAndGlyphs">31 Jan 2025</text>
</svg></body></html>
